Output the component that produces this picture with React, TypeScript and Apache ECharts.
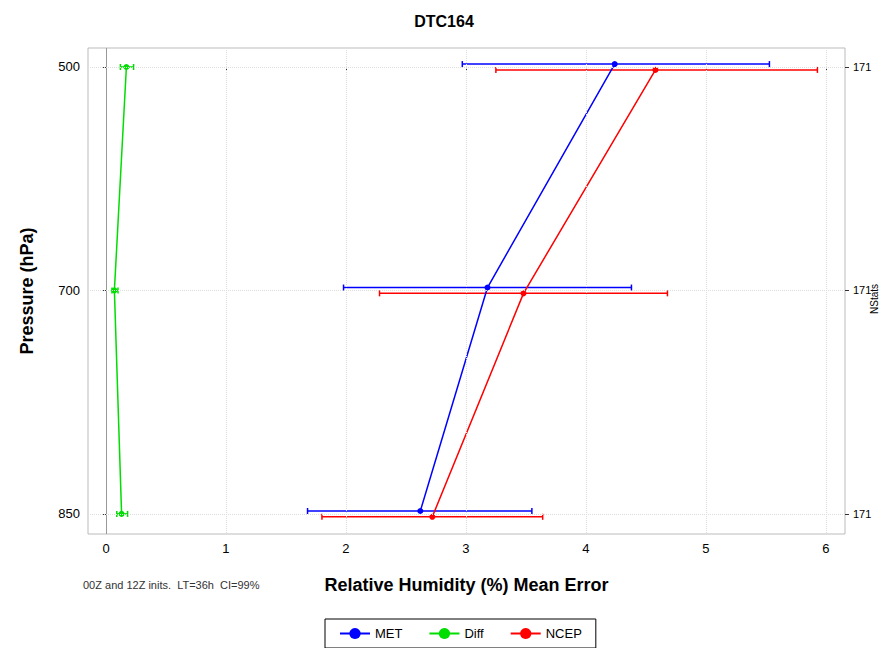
import { useEffect, useRef } from 'react'
import * as echarts from 'echarts'

const levels = ['500', '700', '850']
const nstats = ['171', '171', '171']
const metMean = [4.24, 3.18, 2.62]
const metLo = [2.97, 1.98, 1.68]
const metHi = [5.53, 4.38, 3.55]
const ncepMean = [4.58, 3.48, 2.72]
const ncepLo = [3.25, 2.28, 1.8]
const ncepHi = [5.93, 4.68, 3.64]
const diffMean = [0.17, 0.07, 0.13]
const diffLo = [0.12, 0.05, 0.09]
const diffHi = [0.23, 0.1, 0.18]
const xTicks = [0, 1, 2, 3, 4, 5, 6]

const OFF = 0.013

const errBar = (color: string, lo: number[], hi: number[], off: number) => ({
  type: 'custom',
  renderItem: (_p: any, api: any) => {
    const y = api.value(0)
    const a = api.coord([api.value(1), y])
    const b = api.coord([api.value(2), y])
    const s = { stroke: color, lineWidth: 1.5 }
    return {
      type: 'group',
      children: [
        { type: 'line', shape: { x1: a[0], y1: a[1], x2: b[0], y2: b[1] }, style: s },
        { type: 'line', shape: { x1: a[0], y1: a[1] - 3, x2: a[0], y2: a[1] + 3 }, style: s },
        { type: 'line', shape: { x1: b[0], y1: b[1] - 3, x2: b[0], y2: b[1] + 3 }, style: s },
      ],
    }
  },
  encode: { x: [1, 2], y: 0 },
  data: lo.map((l, i) => [i + off, l, hi[i]]),
  z: 3,
})

const line = (name: string, color: string, mean: number[], off: number) => ({
  name,
  type: 'line',
  data: mean.map((m, i) => [m, i + off]),
  symbol: 'circle',
  symbolSize: 6,
  itemStyle: { color },
  lineStyle: { color, width: 1.5 },
  z: 4,
})

export default function App() {
  const main = useRef<HTMLDivElement>(null)
  useEffect(() => {
    const chart = echarts.init(main.current, null, { renderer: 'svg' })
    const yAxisBase = {
      type: 'value',
      min: -0.085,
      max: 2.09,
      inverse: true,
      axisLine: { show: false },
    }
    chart.setOption({
      animation: false,
      textStyle: { fontFamily: 'Liberation Sans' },
      title: {
        text: 'DTC164',
        left: 'center',
        top: 0,
        textStyle: { fontSize: 16, fontWeight: 'bold', color: '#000' },
      },
      grid: {
        left: 80, right: 35, top: 40, bottom: 114,
        outerBoundsMode: 'none', containLabel: false,
        show: true, borderColor: '#bbb', borderWidth: 1,
      },
      legend: {
        bottom: 0,
        left: 317,
        data: ['MET', 'Diff', 'NCEP'],
        itemWidth: 30,
        itemGap: 26,
        padding: [8, 14],
        borderColor: '#000',
        borderWidth: 1,
        borderRadius: 0,
        textStyle: { fontSize: 13, color: '#000' },
      },
      xAxis: {
        type: 'value',
        min: -0.15,
        max: 6.16,
        axisLine: { show: false },
        axisTick: { customValues: xTicks, length: 4, lineStyle: { color: '#333' } },
        axisLabel: { customValues: xTicks, color: '#000', fontSize: 13 },
        splitLine: { show: false },
        name: 'Relative Humidity (%) Mean Error',
        nameLocation: 'middle',
        nameGap: 42,
        nameTextStyle: { fontSize: 18, fontWeight: 'bold', color: '#000' },
      },
      yAxis: [
        {
          ...yAxisBase,
          axisTick: { show: true, customValues: [0, 1, 2], length: 4, lineStyle: { color: '#333' } },
          axisLabel: { customValues: [0, 1, 2], formatter: (v: number) => levels[Math.round(v)], color: '#000', fontSize: 13 },
          splitLine: { show: false },
          name: 'Pressure (hPa)',
          nameLocation: 'middle',
          nameGap: 52,
          nameTextStyle: { fontSize: 18, fontWeight: 'bold', color: '#000' },
        },
        {
          ...yAxisBase,
          position: 'right',
          axisTick: { show: true, customValues: [0, 1, 2], length: 4, lineStyle: { color: '#333' } },
          axisLabel: { customValues: [0, 1, 2], formatter: (v: number) => nstats[Math.round(v)], color: '#000', fontSize: 11 },
          splitLine: { show: false },
        },
      ],
      graphic: [
        {
          type: 'text',
          left: 75,
          top: 571,
          style: { text: '00Z and 12Z inits.  LT=36h  CI=99%', fontSize: 11, fill: '#333', fontFamily: 'Liberation Sans' },
        },
        {
          type: 'text',
          x: 866,
          y: 291,
          rotation: Math.PI / 2,
          style: {
            text: 'NStats', fontSize: 10, fill: '#000', fontFamily: 'Liberation Sans',
            align: 'center', verticalAlign: 'middle',
          },
        },
      ],
      series: [
        {
          type: 'line',
          data: [],
          markLine: {
            silent: true,
            symbol: 'none',
            label: { show: false },
            lineStyle: { color: '#999', type: 'solid', width: 1 },
            data: [{ xAxis: 0 }],
          },
        },
        {
          type: 'line',
          data: [],
          markLine: {
            silent: true,
            symbol: 'none',
            label: { show: false },
            lineStyle: { color: '#ddd', type: 'dotted', width: 1 },
            data: [...xTicks.slice(1).map((x) => ({ xAxis: x })), { yAxis: 0 }, { yAxis: 1 }, { yAxis: 2 }],
          },
        },
        errBar('#0000ff', metLo, metHi, -OFF),
        errBar('#ff0000', ncepLo, ncepHi, OFF),
        errBar('#00dd00', diffLo, diffHi, 0),
        line('MET', '#0000ff', metMean, -OFF),
        line('Diff', '#00dd00', diffMean, 0),
        line('NCEP', '#ff0000', ncepMean, OFF),
      ],
    })
    return () => chart.dispose()
  }, [])
  return <div ref={main} style={{ width: 872, height: 640 }} />
}
